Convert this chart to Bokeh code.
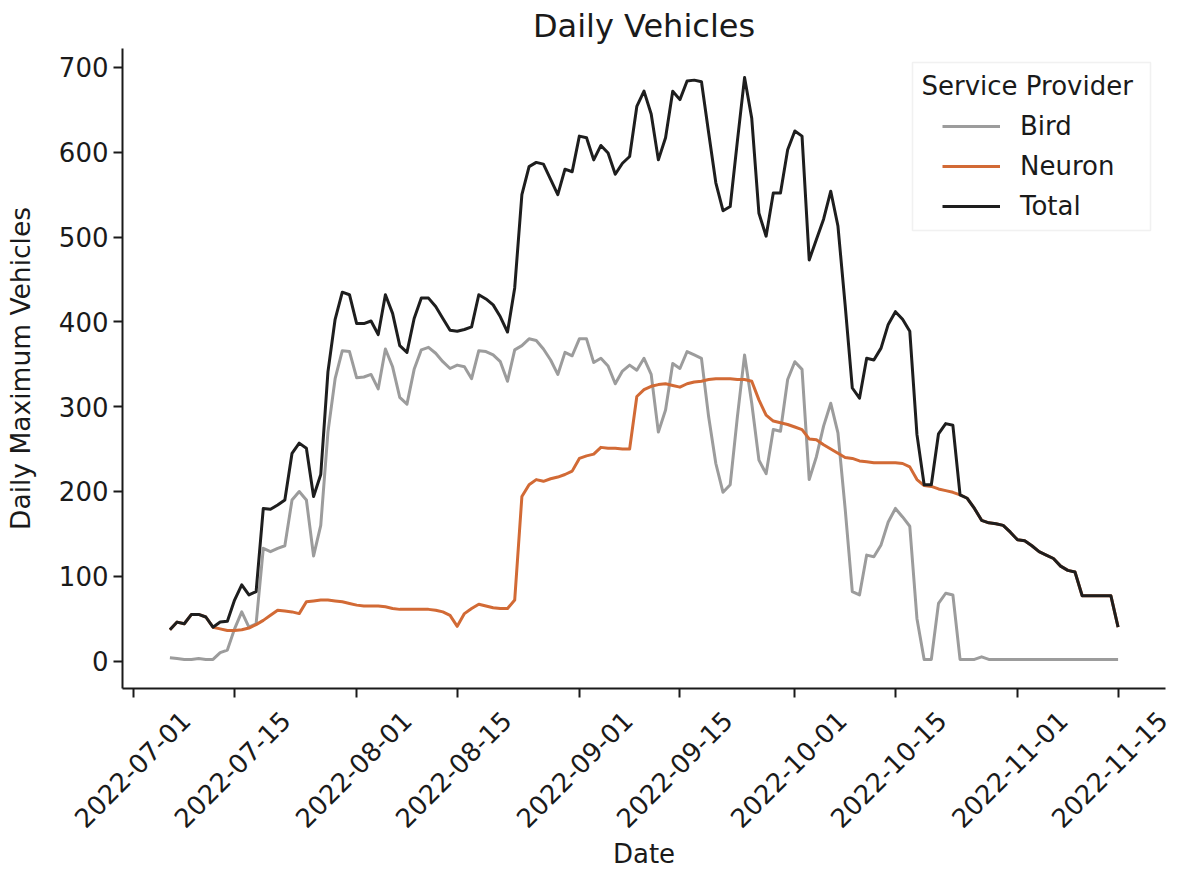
import math
import pandas as pd
from bokeh.plotting import figure
from bokeh.models import (Range1d, FixedTicker, Label, Legend, LegendItem,
                          BoxAnnotation, ColumnDataSource, DatetimeAxis,
                          DatetimeTickFormatter)
from bokeh.embed import file_html
from bokeh.resources import INLINE

# ---------------- data (daily, starting 2022-07-06) ----------------
start_date = "2022-07-06"

total = [37, 46, 44, 55, 55, 52, 40, 46, 47, 72,
         90, 78, 82, 180, 179, 184, 190, 245, 257, 251,
         194, 220, 341, 403, 435, 432, 398, 398, 401, 385,
         432, 410, 372, 364, 404, 428, 428, 418, 404, 390,
         389, 391, 394, 432, 427, 420, 406, 388, 440, 550,
         583, 588, 586, 568, 550, 580, 577, 619, 617, 591,
         608, 599, 574, 587, 595, 654, 672, 645, 591, 617,
         672, 662, 684, 685, 683, 623, 564, 531, 536, 613,
         688, 640, 528, 501, 552, 552, 603, 625, 619, 473,
         497, 521, 554, 513, 420, 322, 310, 357, 355, 369,
         397, 412, 403, 389, 267, 208, 208, 268, 280, 278,
         196, 192, 180, 166, 163, 162, 160, 152, 143, 142,
         136, 129, 125, 121, 112, 107, 105, 77, 77, 77,
         77, 77, 40]

bird = [4, 3, 2, 2, 3, 2, 2, 10, 13, 38,
        58, 40, 44, 133, 129, 133, 136, 190, 200, 190,
        124, 160, 270, 333, 366, 365, 334, 335, 338, 321,
        368, 347, 311, 303, 344, 367, 370, 363, 353, 345,
        349, 347, 333, 366, 365, 361, 353, 330, 367, 372,
        380, 378, 368, 355, 338, 364, 360, 380, 380, 352,
        357, 348, 327, 342, 349, 343, 357, 338, 270, 296,
        351, 345, 365, 361, 357, 288, 233, 199, 208, 288,
        361, 304, 237, 221, 273, 271, 332, 353, 344, 214,
        241, 277, 304, 269, 180, 82, 78, 125, 123, 137,
        164, 180, 170, 159, 50, 2, 2, 68, 80, 78,
        2, 2, 2, 5, 2, 2, 2, 2, 2, 2,
        2, 2, 2, 2, 2, 2, 2, 2, 2, 2,
        2, 2, 2]

neuron = [37, 46, 44, 55, 55, 52, 40, 38, 36, 36,
          37, 39, 43, 48, 54, 60, 59, 58, 56, 70,
          71, 72, 72, 71, 70, 68, 66, 65, 65, 65,
          64, 62, 61, 61, 61, 61, 61, 60, 58, 54,
          41, 56, 62, 67, 65, 63, 62, 62, 72, 194,
          208, 214, 212, 215, 217, 220, 224, 239, 242, 244,
          252, 251, 251, 250, 250, 312, 320, 324, 326, 327,
          325, 323, 327, 329, 330, 332, 333, 333, 333, 332,
          332, 330, 308, 290, 283, 281, 279, 276, 273, 262,
          261, 255, 250, 245, 240, 239, 236, 235, 234, 234,
          234, 234, 233, 229, 214, 207, 206, 203, 201, 199,
          196, 192, 180, 166, 163, 162, 160, 152, 143, 142,
          136, 129, 125, 121, 112, 107, 105, 77, 77, 77,
          77, 77, 40]

series_names = ["Bird", "Neuron", "Total"]
x_tick_labels = ["2022-07-01", "2022-07-15", "2022-08-01", "2022-08-15",
                 "2022-09-01", "2022-09-15", "2022-10-01", "2022-10-15",
                 "2022-11-01", "2022-11-15"]
y_ticks = [0, 100, 200, 300, 400, 500, 600, 700]

# ---------------- figure ----------------
FONT = "DejaVu Sans"
TXT = "#1a1a1a"

dates = pd.date_range(start_date, periods=len(total), freq="D")
src = ColumnDataSource(dict(date=dates, bird=bird, neuron=neuron, total=total))

t0 = pd.Timestamp("2022-07-01")
x_start = t0 - pd.Timedelta(days=1.6)
x_end = t0 + pd.Timedelta(days=143.6)
# range for the label-only axis: offset so that the rotated labels
# (which Bokeh anchors at their end) sit centred under the tick marks
lbl_start = t0 - pd.Timedelta(days=8.834)
lbl_end = t0 + pd.Timedelta(days=137.42)


def ms(s):
    return pd.Timestamp(s).value / 1e6


p = figure(width=1179, height=873, x_axis_type="datetime",
           output_backend="svg", toolbar_location=None,
           x_range=Range1d(x_start.to_pydatetime(), x_end.to_pydatetime()),
           y_range=Range1d(-32.3, 722.3),
           min_border_left=122, min_border_right=14,
           min_border_top=48, min_border_bottom=185)
p.outline_line_color = None
p.xgrid.visible = False
p.ygrid.visible = False
p.background_fill_color = "white"
p.border_fill_color = "white"

p.title.text = "Daily Vehicles"
p.title.align = "center"
p.title.text_font = FONT
p.title.text_font_size = "32px"
p.title.text_font_style = "normal"
p.title.text_color = TXT
p.title.standoff = 8

for ax in (p.xaxis[0], p.yaxis[0]):
    ax.axis_line_width = 2
    ax.axis_line_color = TXT
    ax.major_tick_line_width = 2
    ax.major_tick_line_color = TXT
    ax.major_tick_out = 9
    ax.major_tick_in = 0
    ax.minor_tick_line_color = None

xa = p.xaxis[0]
xa.ticker = FixedTicker(ticks=[ms(t) for t in x_tick_labels])
xa.major_label_text_color = None
xa.major_label_text_font_size = "1px"
xa.major_label_standoff = 0

ya = p.yaxis[0]
ya.ticker = FixedTicker(ticks=y_ticks)
ya.major_label_text_font = FONT
ya.major_label_text_font_size = "26px"
ya.major_label_text_color = TXT
ya.major_label_standoff = 5
ya.axis_label = "Daily Maximum Vehicles"
ya.axis_label_text_font = FONT
ya.axis_label_text_font_size = "26.5px"
ya.axis_label_text_font_style = "normal"
ya.axis_label_text_color = TXT
ya.axis_label_standoff = 20

# second (label-only) date axis
p.extra_x_ranges = {"lbl": Range1d(lbl_start.to_pydatetime(),
                                   lbl_end.to_pydatetime())}
fmt = DatetimeTickFormatter(days="%Y-%m-%d", months="%Y-%m-%d",
                            years="%Y-%m-%d")
la = DatetimeAxis(x_range_name="lbl",
                  ticker=FixedTicker(ticks=[ms(t) for t in x_tick_labels]),
                  formatter=fmt)
la.axis_line_color = None
la.major_tick_line_color = None
la.minor_tick_line_color = None
la.major_tick_out = 0
la.major_tick_in = 0
la.major_label_orientation = math.pi / 4
la.major_label_text_font = FONT
la.major_label_text_font_size = "26px"
la.major_label_text_color = TXT
la.major_label_standoff = 18
la.axis_label = "Date"
la.axis_label_text_font = FONT
la.axis_label_text_font_size = "26px"
la.axis_label_text_font_style = "normal"
la.axis_label_text_color = TXT
la.axis_label_standoff = 0
p.add_layout(la, "below")

colors = {"Bird": "#9c9c9c", "Neuron": "#d26a35", "Total": "#1e1e1e"}
renderers = []
for name, col in zip(series_names, ["bird", "neuron", "total"]):
    r = p.line("date", col, source=src, line_color=colors[name],
               line_width=3, line_join="round")
    renderers.append(r)

# legend frame + title + entries
p.add_layout(BoxAnnotation(left=790, right=1028, top=626, bottom=458,
                           left_units="screen", right_units="screen",
                           top_units="screen", bottom_units="screen",
                           fill_color="white", fill_alpha=0.85,
                           line_color="#d0d0d0", line_width=1.5))
p.add_layout(Label(x=799, y=603, x_units="screen", y_units="screen",
                   text="Service Provider", text_align="left",
                   text_baseline="middle", text_font=FONT,
                   text_font_size="26px", text_color=TXT))

legend = Legend(items=[LegendItem(label=n, renderers=[r])
                       for n, r in zip(series_names, renderers)],
                location=(820, 467), orientation="vertical",
                label_text_font=FONT, label_text_font_size="26px",
                label_text_color=TXT, glyph_width=58, glyph_height=30,
                label_height=30, label_standoff=20, spacing=10,
                padding=0, margin=0, border_line_color=None,
                background_fill_alpha=0)
p.add_layout(legend)

open("out.html", "w").write(file_html(p, INLINE))
